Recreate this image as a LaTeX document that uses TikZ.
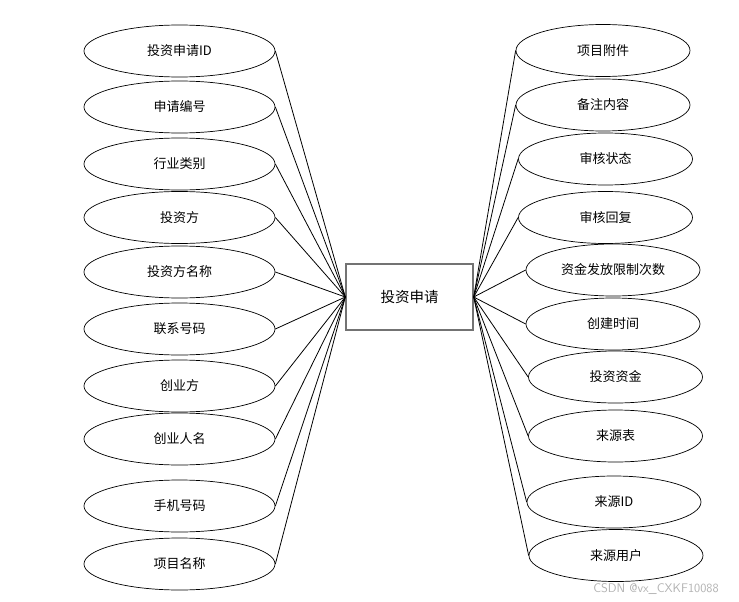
\documentclass[tikz,border=0pt]{standalone}
\usepackage{fontspec}
\newfontfamily\cjk{Noto Sans CJK SC}
\usetikzlibrary{shapes.geometric}

\begin{document}
\begin{tikzpicture}[x=1pt,y=-1pt,line width=0.8pt,
  lattr/.style={ellipse,draw,line width=0.7pt,minimum width=191pt,minimum height=52pt,inner sep=0pt,font=\cjk\fontsize{13}{15}\selectfont},
  rattr/.style={lattr,minimum width=174pt},
  entity/.style={draw=black!55,line width=1.4pt,minimum width=127pt,minimum height=66pt,inner sep=0pt,font=\cjk\fontsize{14.5}{16}\selectfont}]
  \useasboundingbox (0,0) rectangle (739,602);
  % entidad
  \node[entity] (inv) at (409.5,297) {投资申请};
  % atributos izquierda
  \node[lattr] (l1) at (179.5,51) {投资申请ID};
  \node[lattr] (l2) at (179.5,107) {申请编号};
  \node[lattr] (l3) at (179.5,164) {行业类别};
  \node[lattr] (l4) at (179.5,217.5) {投资方};
  \node[lattr] (l5) at (179.5,272) {投资方名称};
  \node[lattr] (l6) at (179.5,329) {联系号码};
  \node[lattr] (l7) at (179.5,386) {创业方};
  \node[lattr] (l8) at (179.5,439) {创业人名};
  \node[lattr] (l9) at (179.5,506) {手机号码};
  \node[lattr] (l10) at (179.5,564) {项目名称};
  % atributos derecha
  \node[rattr] (r1) at (603,50.5) {项目附件};
  \node[rattr] (r2) at (603,105) {备注内容};
  \node[rattr] (r3) at (605.5,159) {审核状态};
  \node[rattr] (r4) at (605.5,217.5) {审核回复};
  \node[rattr] (r5) at (613,270) {资金发放限制次数};
  \node[rattr] (r6) at (613,324) {创建时间};
  \node[rattr] (r7) at (615.5,377) {投资资金};
  \node[rattr] (r8) at (615.5,436) {来源表};
  \node[rattr] (r9) at (614,502) {来源ID};
  \node[rattr] (r10) at (616,555.5) {来源用户};
  % enlaces
  \draw (inv.west)--(l1.east); \draw (inv.west)--(l2.east); \draw (inv.west)--(l3.east);
  \draw (inv.west)--(l4.east); \draw (inv.west)--(l5.east); \draw (inv.west)--(l6.east);
  \draw (inv.west)--(l7.east); \draw (inv.west)--(l8.east); \draw (inv.west)--(l9.east);
  \draw (inv.west)--(l10.east);
  \draw (inv.east)--(r1.west); \draw (inv.east)--(r2.west); \draw (inv.east)--(r3.west);
  \draw (inv.east)--(r4.west); \draw (inv.east)--(r5.west); \draw (inv.east)--(r6.west);
  \draw (inv.east)--(r7.west); \draw (inv.east)--(r8.west); \draw (inv.east)--(r9.west);
  \draw (inv.east)--(r10.west);
  % marca
  \node[text=black!30,font=\sffamily\fontsize{12.5}{14}\selectfont] (mark) at (656,589) {CSDN @vx\_CXKF10088};
\end{tikzpicture}
\end{document}
